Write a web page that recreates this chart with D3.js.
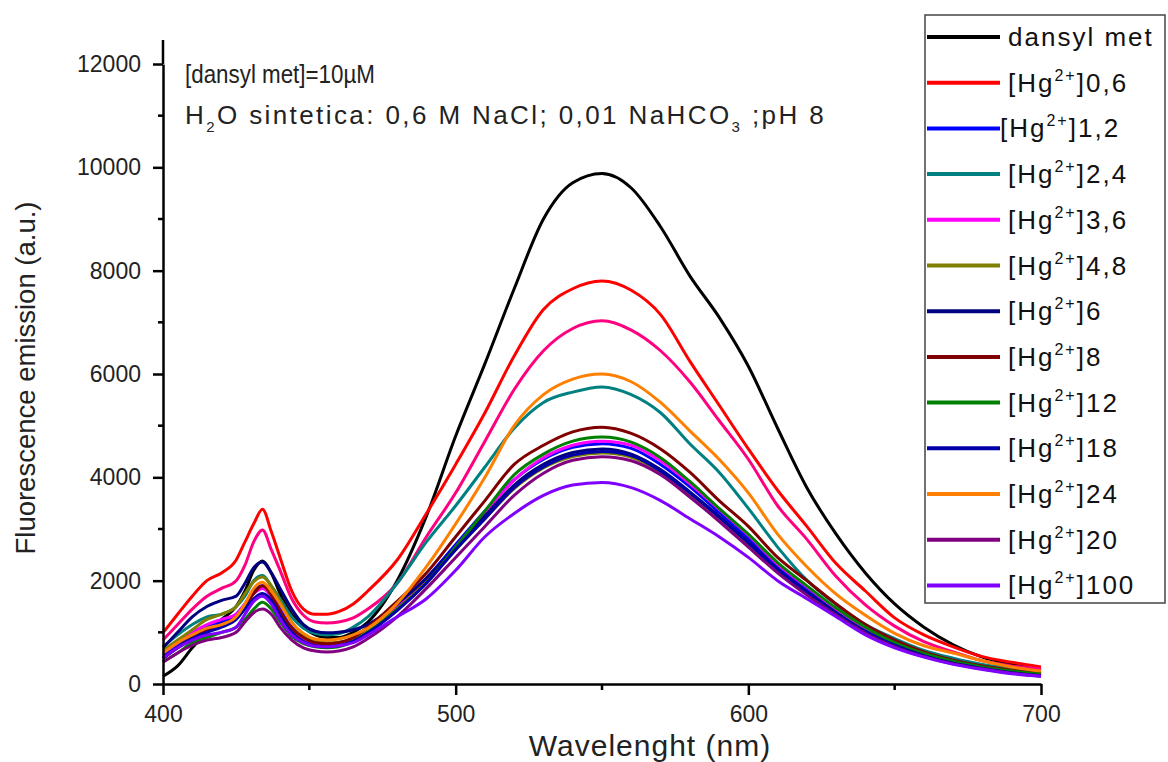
<!DOCTYPE html>
<html>
<head>
<meta charset="utf-8">
<script src="https://cdn.jsdelivr.net/npm/d3@7"></script>
<style>
  body { margin: 0; background: #fff; }
  svg { display: block; font-family: "Liberation Sans", Arial, sans-serif; }
</style>
</head>
<body>
<svg id="chart" width="1168" height="762"></svg>
<script>
// wavelength grid (nm) – denser around the 433 nm band
const wavelengths = [400,405,410,415,420,425,428,431,434,437,440,444,448,452,456,460,465,470,480,490,500,510,520,530,540,550,560,570,580,590,600,610,620,630,640,650,660,670,680,690,700];

const dansylMet = [150,350,700,1000,1250,1500,1800,2200,2380,2150,1750,1350,1100,950,900,900,1000,1200,2000,3250,4800,6200,7650,9000,9700,9880,9600,8850,7900,7100,6150,4950,3800,2900,2150,1550,1100,760,520,380,270];
const hg06     = [990,1350,1700,2000,2150,2400,2750,3100,3380,2950,2450,1800,1450,1350,1350,1400,1550,1800,2400,3300,4250,5250,6350,7250,7650,7800,7620,7150,6250,5400,4550,3750,3050,2330,1800,1280,950,720,530,420,330];
const extraPink = [850,1150,1450,1700,1850,2000,2300,2750,2980,2600,2200,1650,1330,1200,1180,1200,1280,1450,1950,2850,3700,4700,5700,6450,6880,7030,6850,6450,5850,5100,4350,3450,2800,2080,1530,1120,820,620,450,350,290];
const hg12     = [550,750,950,1100,1200,1350,1550,1800,1900,1750,1450,1100,880,790,770,790,870,1030,1500,2050,2700,3350,3950,4350,4580,4650,4560,4250,3820,3320,2820,2280,1830,1420,1050,780,570,420,310,240,180];
const hg24     = [720,950,1150,1300,1350,1500,1700,2000,2100,1900,1650,1300,1080,980,950,970,1100,1300,1950,2750,3450,4200,4950,5450,5650,5750,5600,5250,4650,4100,3400,2650,2010,1540,1150,880,650,500,380,300,230];
const hg36     = [600,800,1000,1150,1250,1350,1550,1750,1850,1700,1400,1050,850,780,760,780,860,1020,1480,2000,2650,3300,3950,4380,4620,4700,4620,4320,3880,3380,2880,2320,1880,1450,1080,800,580,430,320,250,190];
const hg48     = [650,850,1050,1250,1350,1500,1750,1980,2070,1900,1600,1200,950,830,800,810,880,1030,1450,1980,2600,3200,3780,4180,4400,4470,4390,4100,3680,3200,2700,2180,1750,1350,1000,740,540,400,300,220,160];
const hg6      = [700,1000,1300,1500,1620,1700,1950,2250,2360,2150,1850,1450,1150,1020,990,1000,1050,1150,1550,2050,2650,3250,3850,4250,4480,4550,4450,4150,3720,3250,2750,2220,1780,1380,1020,760,560,410,300,230,170];
const hg8      = [500,700,900,1050,1150,1300,1500,1750,1900,1720,1400,1080,900,800,780,800,900,1100,1600,2150,2850,3550,4250,4620,4880,4970,4850,4550,4100,3550,3050,2450,2000,1550,1150,850,620,460,350,270,200];
const hg12b    = [430,600,800,900,1000,1100,1250,1450,1580,1450,1200,920,780,720,700,720,820,1000,1450,1950,2650,3350,4050,4450,4700,4780,4680,4380,3920,3400,2900,2350,1900,1470,1100,800,590,440,330,250,190];
const hg18     = [500,700,880,1000,1100,1250,1450,1650,1750,1620,1320,1000,820,740,720,740,830,990,1420,1950,2600,3200,3800,4200,4430,4500,4420,4120,3700,3230,2730,2200,1760,1360,1010,750,550,400,300,220,160];
const hg24b    = [600,800,950,1080,1150,1300,1550,1850,1970,1800,1550,1180,980,870,850,870,950,1080,1560,2270,3100,4000,5000,5600,5900,6000,5850,5450,4900,4350,3700,2900,2270,1740,1330,980,740,600,450,330,250];
const hg20     = [420,600,750,850,900,1000,1200,1380,1450,1350,1100,850,700,640,620,640,720,880,1300,1850,2450,3050,3650,4080,4330,4400,4320,4050,3620,3150,2650,2150,1720,1330,980,720,530,390,290,210,150];
const hg100    = [500,700,850,950,1000,1100,1350,1600,1700,1550,1250,950,800,730,720,740,800,950,1300,1650,2200,2850,3300,3650,3850,3900,3800,3550,3200,2850,2450,2000,1650,1300,950,700,520,380,280,200,150];

const xTicks = [400, 500, 600, 700];
const xMinor = [450, 550, 650];
const yTicks = [0, 2000, 4000, 6000, 8000, 10000, 12000];
const yMinor = [1000, 3000, 5000, 7000, 9000, 11000];

// draw order follows the original plot; null label = not in legend
const series = [
  { label: "dansyl met", sup: null, color: "#000000", values: dansylMet },
  { label: "0,6", sup: "2+", color: "#ff0000", values: hg06 },
  { label: null, sup: null, color: "#ff0080", values: extraPink },
  { label: "1,2", sup: "2+", color: "#0000ff", values: hg12 },
  { label: "2,4", sup: "2+", color: "#008080", values: hg24 },
  { label: "3,6", sup: "2+", color: "#ff00ff", values: hg36 },
  { label: "4,8", sup: "2+", color: "#808000", values: hg48 },
  { label: "6", sup: "2+", color: "#000080", values: hg6 },
  { label: "8", sup: "2+", color: "#800000", values: hg8 },
  { label: "12", sup: "2+", color: "#008000", values: hg12b },
  { label: "18", sup: "2+", color: "#0000a8", values: hg18 },
  { label: "24", sup: "2+", color: "#ff8000", values: hg24b },
  { label: "20", sup: "2+", color: "#800080", values: hg20 },
  { label: "100", sup: "2+", color: "#8000ff", values: hg100 }
];

const svg = d3.select("#chart");
const x = d3.scaleLinear().domain([400, 700]).range([163, 1041]);
const y = d3.scaleLinear().domain([0, 12000]).range([684, 64]);

// curves
const line = d3.line()
  .x((d, i) => x(wavelengths[i]))
  .y(d => y(d))
  .curve(d3.curveMonotoneX);

svg.append("g")
  .selectAll("path")
  .data(series)
  .join("path")
  .attr("fill", "none")
  .attr("stroke", d => d.color)
  .attr("stroke-width", 3)
  .attr("stroke-linejoin", "round")
  .attr("d", d => line(d.values));

// axes
const xAxis = svg.append("g").attr("transform", "translate(0,684)");
xAxis.call(d3.axisBottom(x).tickValues(xTicks).tickSize(11).tickFormat(d3.format("d")).tickSizeOuter(0));
xAxis.append("g").selectAll("line")
  .data(xMinor)
  .join("line")
  .attr("x1", d => x(d)).attr("x2", d => x(d))
  .attr("y1", 0).attr("y2", 6)
  .attr("stroke", "#000").attr("stroke-width", 2.5);

const yAxis = svg.append("g").attr("transform", "translate(163,0)");
yAxis.call(d3.axisLeft(y).tickValues(yTicks).tickSize(10).tickFormat(d3.format("d")).tickSizeOuter(0));
yAxis.append("g").selectAll("line")
  .data(yMinor)
  .join("line")
  .attr("x1", 0).attr("x2", -5)
  .attr("y1", d => y(d)).attr("y2", d => y(d))
  .attr("stroke", "#000").attr("stroke-width", 2.5);
// axis line runs a little past the last tick, as in the original
yAxis.append("line")
  .attr("x1", 0).attr("x2", 0)
  .attr("y1", y(12000)).attr("y2", 40)
  .attr("stroke", "#000").attr("stroke-width", 2.5);

[xAxis, yAxis].forEach(g => {
  g.select(".domain").attr("stroke", "#000").attr("stroke-width", 2.5);
  g.selectAll(".tick line").attr("stroke", "#000").attr("stroke-width", 2.5);
  g.selectAll(".tick text")
    .attr("font-family", "Liberation Sans, Arial, sans-serif")
    .attr("font-size", 23)
    .attr("fill", "#222");
});
xAxis.selectAll(".tick text").attr("dy", "1.05em");
yAxis.selectAll(".tick text").attr("x", -22);

// axis titles
svg.append("text")
  .attr("x", 650).attr("y", 756)
  .attr("text-anchor", "middle")
  .attr("font-size", 30)
  .attr("letter-spacing", 1)
  .attr("fill", "#222")
  .text("Wavelenght (nm)");

svg.append("text")
  .attr("transform", "translate(35,378) rotate(-90)")
  .attr("text-anchor", "middle")
  .attr("font-size", 27.5)
  .attr("fill", "#222")
  .text("Fluorescence emission (a.u.)");

// annotation
const note = svg.append("g").attr("fill", "#222");
note.append("text").attr("x", 185).attr("y", 83)
  .attr("font-size", 26)
  .attr("textLength", 190).attr("lengthAdjust", "spacingAndGlyphs")
  .text("[dansyl met]=10\u00b5M");
const n2 = note.append("text").attr("x", 185).attr("y", 124)
  .attr("font-size", 26).attr("letter-spacing", 2.4);
n2.append("tspan").text("H");
n2.append("tspan").attr("font-size", 15).attr("dy", 8).text("2");
n2.append("tspan").attr("dy", -8).text("O sintetica: 0,6 M NaCl; 0,01 NaHCO");
n2.append("tspan").attr("font-size", 15).attr("dy", 8).text("3");
n2.append("tspan").attr("dy", -8).text(" ;pH 8");

// legend
const legendItems = series.filter(d => d.label !== null);
const legend = svg.append("g");
legend.append("rect")
  .attr("x", 925).attr("y", 15)
  .attr("width", 240).attr("height", 588)
  .attr("fill", "#fff")
  .attr("stroke", "#444").attr("stroke-width", 1.5);

const rows = legend.selectAll("g.row")
  .data(legendItems)
  .join("g")
  .attr("class", "row")
  .attr("transform", (d, i) => `translate(0,${37 + i * 45.7})`);

rows.append("line")
  .attr("x1", 927).attr("x2", 1000)
  .attr("stroke", d => d.color)
  .attr("stroke-width", 4);

rows.each(function (d) {
  const t = d3.select(this).append("text")
    .attr("x", d.label === "1,2" ? 1000 : 1008)
    .attr("y", 9)
    .attr("font-size", 26)
    .attr("letter-spacing", 2)
    .attr("fill", "#111");
  if (d.sup) {
    t.append("tspan").text("[Hg");
    t.append("tspan").attr("font-size", 16).attr("dy", -11).text(d.sup);
    t.append("tspan").attr("dy", 11).text("]" + d.label);
  } else {
    t.text(d.label);
  }
});
</script>
</body>
</html>
